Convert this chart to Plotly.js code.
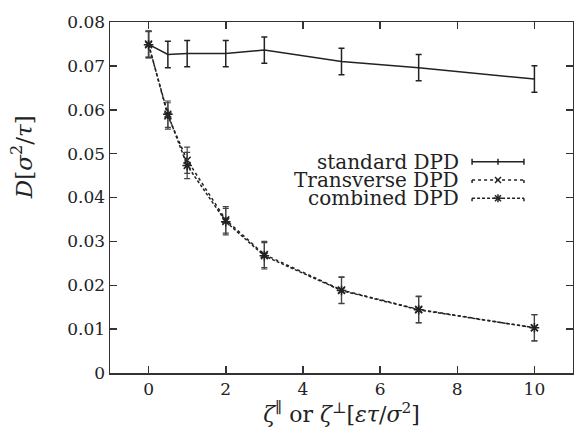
<!DOCTYPE html>
<html>
<head>
<meta charset="utf-8">
<script src="https://cdn.plot.ly/plotly-3.0.1.min.js"></script>
<style>html,body{margin:0;padding:0;background:#fff;}#chart{width:574px;height:430px;}</style>
</head>
<body>
<div id="chart"></div>
<script>
// ---- data ----
const zeta = [0, 0.5, 1, 2, 3, 5, 7, 10];
const standardD = [0.0749, 0.0726, 0.0728, 0.0728, 0.0736, 0.0710, 0.0696, 0.0670];
const standardErr = [0.003, 0.003, 0.003, 0.003, 0.003, 0.003, 0.003, 0.003];
const transverseD = [0.0750, 0.0586, 0.0485, 0.0349, 0.0270, 0.0189, 0.0145, 0.0103];
const transverseErr = [0.003, 0.003, 0.003, 0.003, 0.003, 0.003, 0.003, 0.003];
const combinedD = [0.0748, 0.0590, 0.0473, 0.0345, 0.0267, 0.0188, 0.0144, 0.0103];
const combinedErr = [0.003, 0.003, 0.003, 0.003, 0.003, 0.003, 0.003, 0.003];
const seriesNames = ["standard DPD", "Transverse DPD", "combined DPD"];
const yTicks = [0, 0.01, 0.02, 0.03, 0.04, 0.05, 0.06, 0.07, 0.08];
const yTickText = ["0", "0.01", "0.02", "0.03", "0.04", "0.05", "0.06", "0.07", "0.08"];
const xTicks = [0, 2, 4, 6, 8, 10];

const ink = '#222';
const FONT = 'DejaVu Serif';

const traces = [
  {
    x: zeta, y: standardD, name: seriesNames[0], mode: 'lines',
    line: {color: ink, width: 1.5},
    error_y: {type: 'data', array: standardErr, visible: true, color: ink, thickness: 1.5, width: 3}
  },
  {
    x: zeta, y: transverseD, name: seriesNames[1], mode: 'lines+markers',
    line: {color: ink, width: 1.5, dash: 'dot'},
    marker: {symbol: 'x-thin-open', size: 7, color: ink, line: {color: ink, width: 1.5}},
    error_y: {type: 'data', array: transverseErr, visible: true, color: '#444', thickness: 1.2, width: 3}
  },
  {
    x: zeta, y: combinedD, name: seriesNames[2], mode: 'lines+markers',
    line: {color: ink, width: 1.5, dash: '3px,2px'},
    marker: {symbol: 'asterisk-open', size: 8, color: ink, line: {color: ink, width: 1.5}},
    error_y: {type: 'data', array: combinedErr, visible: true, color: '#444', thickness: 1.2, width: 3}
  }
];

// ---- hand-drawn legend (text on the left, sample on the right, as in the reference) ----
const legRows = [0.602, 0.550, 0.498];
const legTextX = 0.759, legL = 0.782, legR = 0.894, legM = (legL + legR) / 2;
const px = 1 / 463, py = 1 / 351;
const dashes = ['solid', 'dot', '3px,2px'];
const shapes = [];
const annotations = [];
legRows.forEach((yy, i) => {
  annotations.push({xref: 'paper', yref: 'paper', x: legTextX, y: yy, xanchor: 'right', yanchor: 'middle',
    text: seriesNames[i], showarrow: false, font: {family: FONT, size: 20, color: ink}});
  shapes.push({type: 'line', xref: 'paper', yref: 'paper', x0: legL, x1: legR, y0: yy, y1: yy,
    line: {color: ink, width: 1.5, dash: dashes[i]}});
  [legL, legR].forEach(xx => shapes.push({type: 'line', xref: 'paper', yref: 'paper', x0: xx, x1: xx,
    y0: yy - 3 * py, y1: yy + 3 * py, line: {color: ink, width: 1.5, dash: i === 0 ? 'solid' : 'dot'}}));
  if (i === 0) {
    shapes.push({type: 'line', xref: 'paper', yref: 'paper', x0: legM, x1: legM,
      y0: yy - 3 * py, y1: yy + 3 * py, line: {color: ink, width: 1.5}});
  } else {
    const s = 3;
    shapes.push({type: 'line', xref: 'paper', yref: 'paper', x0: legM - s * px, x1: legM + s * px,
      y0: yy - s * py, y1: yy + s * py, line: {color: ink, width: 1.5}});
    shapes.push({type: 'line', xref: 'paper', yref: 'paper', x0: legM - s * px, x1: legM + s * px,
      y0: yy + s * py, y1: yy - s * py, line: {color: ink, width: 1.5}});
    if (i === 2) {
      shapes.push({type: 'line', xref: 'paper', yref: 'paper', x0: legM - (s + 1) * px, x1: legM + (s + 1) * px,
        y0: yy, y1: yy, line: {color: ink, width: 1.5}});
      shapes.push({type: 'line', xref: 'paper', yref: 'paper', x0: legM, x1: legM,
        y0: yy - (s + 1) * py, y1: yy + (s + 1) * py, line: {color: ink, width: 1.5}});
    }
  }
});

// y-axis title as annotation (placed like the reference)
annotations.push({xref: 'paper', yref: 'paper', x: -0.19, y: 0.615, xanchor: 'center', yanchor: 'middle',
  textangle: -90, showarrow: false,
  text: '<i>D</i>[<i>σ</i><sup>2</sup>/<i>τ</i>]', font: {family: FONT, size: 23, color: ink}});

const axisCommon = {
  showgrid: false, zeroline: false, showline: true, linecolor: '#333', linewidth: 1.5,
  ticks: 'inside', ticklen: 7, tickwidth: 1.5, tickcolor: '#333', mirror: 'ticks',
  tickfont: {family: FONT, size: 17, color: ink}
};

const layout = {
  width: 574, height: 430,
  margin: {l: 110, r: 1, t: 22, b: 57},
  paper_bgcolor: '#fff', plot_bgcolor: '#fff',
  showlegend: false,
  font: {family: FONT, color: ink},
  xaxis: Object.assign({}, axisCommon, {
    range: [-1, 11], tickvals: xTicks, ticktext: xTicks.map(String),
    title: {text: '<i>ζ</i><sup>∥</sup> or <i>ζ</i><sup>⊥</sup>[<i>ετ</i>/<i>σ</i><sup>2</sup>]',
      font: {family: FONT, size: 22, color: ink}, standoff: 2}
  }),
  yaxis: Object.assign({}, axisCommon, {
    range: [0, 0.08], tickvals: yTicks, ticktext: yTickText
  }),
  shapes: shapes,
  annotations: annotations
};

Plotly.newPlot('chart', traces, layout, {staticPlot: true, displayModeBar: false});
</script>
</body>
</html>
